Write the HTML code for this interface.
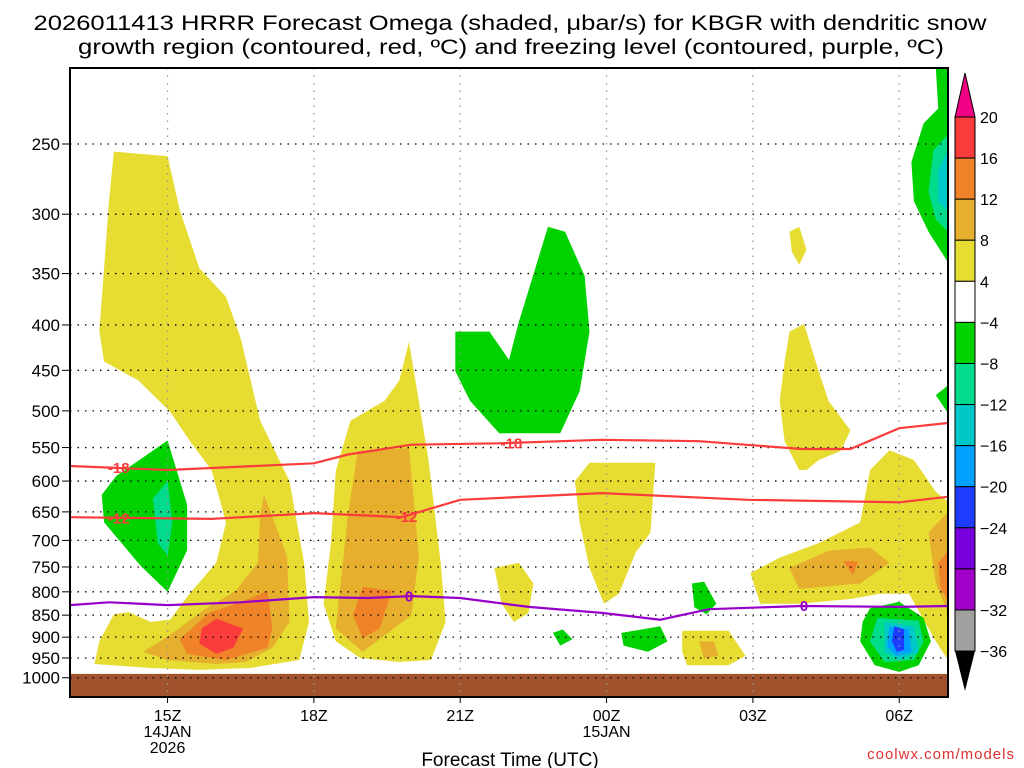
<!DOCTYPE html>
<html><head><meta charset="utf-8"><style>
html,body{margin:0;padding:0;background:#fff;}
svg{display:block;font-family:"Liberation Sans",sans-serif;}
</style></head><body>
<svg id="chart" width="1024" height="768" viewBox="0 0 1024 768"></svg>
<script>
// ---------- data ----------
const hourTicks = [15, 18, 21, 24, 27, 30];
const hourTickLabels = ["15Z", "18Z", "21Z", "00Z", "03Z", "06Z"];
const pressureLevels = [250,300,350,400,450,500,550,600,650,700,750,800,850,900,950,1000];
const cbLabels = ["20","16","12","8","4","-4","-8","-12","-16","-20","-24","-28","-32","-36"];
const cbColors = ["#fa3c3c","#f08228","#e6af2d","#e6dc32","#ffffff","#00d200","#00dc8c","#00c8c8","#00a0ff","#1e3cff","#7800dc","#a000c8","#a0a0a0"];

// contour lines [hour, hPa]
const lineM18Hours = [13,15,18,18.7,20,21.8,23.9,25.9,28,29,30,31];
const lineM18Press = [577,583,573,560,546,544,539,541,552,552,523,516];
const lineM12Hours = [13,15.9,18,19.8,21,23.9,26.9,30,31];
const lineM12Press = [659,662,652,659,630,619,630,634,625];
const line0Hours = [13,13.8,15,16.5,18,19.1,20,21,22.4,23.9,25.1,26.1,28,30,31];
const line0Press = [828,822,828,822,811,813,809,813,832,845,860,837,830,832,830];

// shaded omega regions [hour, hPa]
const yellowRegions = [
 [[13.9,255],[15.0,258],[15.25,297],[15.65,345],[16.2,372],[16.5,414],[16.9,513],[17.5,600],[17.8,742],[17.9,865],[17.7,955],[16.7,975],[15.65,980],[14.65,975],[13.5,965],[13.6,910],[13.9,848],[14.2,843],[14.65,865],[15.05,860],[15.45,804],[16.0,742],[16.2,668],[15.9,583],[15.45,540],[15.05,501],[14.4,462],[13.7,440],[13.6,407],[13.7,345],[13.8,290]],
 [[19.95,418],[20.15,487],[20.35,568],[20.6,742],[20.7,865],[20.4,955],[19.75,960],[18.95,950],[18.45,910],[18.2,825],[18.35,705],[18.45,584],[18.75,513],[19.45,487],[19.75,462]],
 [[23.65,572],[25.0,572],[24.9,686],[24.6,722],[24.25,804],[23.95,825],[23.65,752],[23.45,668],[23.35,600]],
 [[21.7,752],[22.2,742],[22.5,783],[22.4,845],[22.1,865],[21.85,825]],
 [[25.55,885],[26.5,885],[26.85,945],[26.5,968],[25.65,968],[25.55,935]],
 [[27.75,407],[28.05,399],[28.35,451],[28.55,487],[29.0,526],[28.8,555],[28.35,568],[28.1,583],[27.95,583],[27.65,541],[27.55,487],[27.65,440]],
 [[27.75,314],[27.95,310],[28.1,329],[27.95,342],[27.8,331]],
 [[26.95,762],[27.55,732],[28.35,705],[29.2,668],[29.4,583],[29.8,554],[30.3,568],[30.75,617],[31,633],[31,955],[30.75,910],[30.2,804],[29.6,804],[29.0,815],[27.95,825],[27.15,825]]
];
const goldRegions = [
 [[16.98,622],[17.45,730],[17.5,865],[17.15,925],[16.6,960],[16.0,965],[15.0,955],[14.5,935],[15.05,895],[15.75,838],[16.4,798],[16.85,742],[16.9,655]],
 [[18.9,555],[19.95,551],[20.15,730],[20.0,850],[19.0,935],[18.45,880],[18.7,655]],
 [[25.9,910],[26.2,910],[26.3,945],[26.0,952]],
 [[27.75,752],[28.55,719],[29.4,713],[29.8,742],[29.2,783],[27.95,794]],
 [[30.6,686],[31,650],[31,845],[30.75,783]]
];
const orangeRegions = [
 [[17.05,798],[17.15,880],[17.05,925],[16.2,955],[15.4,940],[15.25,905],[15.85,845],[16.6,818]],
 [[19.0,790],[19.6,798],[19.35,880],[19.0,902],[18.8,850]],
 [[28.85,738],[29.15,740],[29.05,766]],
 [[30.8,742],[31,719],[31,815],[30.85,794]]
];
const redRegions = [
 [[16.0,858],[16.55,880],[16.35,925],[16.0,940],[15.65,915],[15.7,880]]
];
const greenRegions = [
 [[15.0,540],[15.4,638],[15.4,718],[15.0,800],[14.45,748],[13.7,668],[13.65,622],[13.95,592]],
 [[20.9,407],[21.6,407],[22.0,438],[22.2,397],[22.8,310],[23.15,314],[23.55,352],[23.65,407],[23.45,475],[23.05,530],[21.8,530],[21.2,487],[20.9,451],[20.9,410]],
 [[25.75,783],[26.0,779],[26.25,825],[26.05,848],[25.8,833]],
 [[22.9,890],[23.1,882],[23.3,905],[23.05,920]],
 [[24.3,890],[25.1,875],[25.25,910],[24.85,935],[24.35,920]],
 [[29.4,835],[30.0,821],[30.5,856],[30.65,910],[30.4,968],[30.0,985],[29.5,968],[29.2,910],[29.25,865]],
 [[31,205],[30.75,205],[30.8,228],[30.5,237],[30.25,262],[30.3,290],[30.6,314],[31,340]],
 [[31,468],[30.75,480],[31,503]]
];
const tealRegions = [
 [[15.0,600],[15.1,668],[15.0,728],[14.8,705],[14.7,628]],
 [[29.55,856],[30.4,862],[30.5,910],[30.3,955],[29.7,960],[29.4,910]],
 [[31,244],[30.7,254],[30.6,283],[30.75,304],[31,314]]
];
const cyanRegions = [
 [[29.7,865],[30.3,875],[30.4,935],[30.0,955],[29.7,935]],
 [[31,254],[30.8,268],[30.8,290],[31,298]]
];
const blueRegions = [[[29.8,875],[30.2,882],[30.25,935],[29.95,945],[29.75,922]]];
const darkBlueRegions = [[[29.9,875],[30.1,882],[30.1,930],[29.95,935],[29.85,910]]];

// ---------- axes ----------
const PL=70, PR=948, PT=68, PB=697;
const H0=13, H1=31;
function xs(h){return PL+(h-H0)/(H1-H0)*(PR-PL);}
function ys(p){return 144+385*Math.log(p/250);}

const svg=document.getElementById('chart');
const NS='http://www.w3.org/2000/svg';
function mk(tag,attrs,parent){const e=document.createElementNS(NS,tag);for(const k in attrs)e.setAttribute(k,attrs[k]);(parent||svg).appendChild(e);return e;}

const clip=mk('clipPath',{id:'pc'});mk('rect',{x:PL,y:PT,width:PR-PL,height:PB-PT},clip);
const plot=mk('g',{'clip-path':'url(#pc)'});



function drawRegions(arr,color,name){
  arr.forEach(function(poly){
    const pts=poly.map(function(q){return xs(q[0]).toFixed(1)+','+ys(q[1]).toFixed(1);}).join(' ');
    const e=mk('polygon',{points:pts,fill:color},plot);
    
    
  });
}
drawRegions(yellowRegions,'#e6dc32','omega-4-8');
drawRegions(goldRegions,'#e6af2d','omega-8-12');
drawRegions(orangeRegions,'#f08228','omega-12-16');
drawRegions(redRegions,'#fa3c3c','omega-16-20');
drawRegions(greenRegions,'#00d200','omega-neg4-neg8');
drawRegions(tealRegions,'#00dc8c','omega-neg8-neg12');
drawRegions(cyanRegions,'#00c8c8','omega-neg12-neg16');
drawRegions(blueRegions,'#00a0ff','omega-neg16-neg20');
drawRegions(darkBlueRegions,'#1e3cff','omega-neg20-neg24');

// ground
const ground=mk('rect',{x:PL,y:ys(990),width:PR-PL,height:PB-ys(990),fill:'#a0522d'},plot);



// grid
pressureLevels.forEach(function(p){
  const g=mk('line',{x1:PL,x2:PR,y1:ys(p),y2:ys(p),stroke:'#000','stroke-width':1.3,'stroke-dasharray':'1.5,6'},plot);
  
  
});
hourTicks.forEach(function(h){
  const g=mk('line',{x1:xs(h),x2:xs(h),y1:PT,y2:PB,stroke:'#999','stroke-width':1.3,'stroke-dasharray':'1.5,6'},plot);
  
  
});

// contour lines
function drawLine(hours,press,color,name){
  const d=hours.map(function(h,i){return (i?'L':'M')+xs(h).toFixed(1)+','+ys(press[i]).toFixed(1);}).join(' ');
  const e=mk('path',{d:d,fill:'none',stroke:color,'stroke-width':2.2},plot);
  
  
}
drawLine(lineM18Hours,lineM18Press,'#fa3c3c','contour-minus18');
drawLine(lineM12Hours,lineM12Press,'#fa3c3c','contour-minus12');
drawLine(line0Hours,line0Press,'#9600c8','freezing-level-0');

function cLabel(txt,h,p,color){
  const t=mk('text',{x:xs(h),y:ys(p)+5,'text-anchor':'middle','font-size':15,'font-weight':'bold',fill:color},plot);
  t.textContent=txt;
  
  
}
cLabel('-18',14.0,580,'#fa3c3c');cLabel('-18',22.05,544,'#fa3c3c');
cLabel('-12',14.0,661,'#fa3c3c');cLabel('-12',19.9,659,'#fa3c3c');
cLabel('0',19.95,810,'#9600c8');cLabel('0',28.05,830,'#9600c8');

// frame
const fr=mk('rect',{x:PL,y:PT,width:PR-PL,height:PB-PT,fill:'none',stroke:'#000','stroke-width':2});



// y labels
pressureLevels.forEach(function(p){
  const t=mk('text',{x:60,y:ys(p)+6,'text-anchor':'end','font-size':17,fill:'#000'});
  t.textContent=p;
  
  
  mk('line',{x1:62,x2:PL,y1:ys(p),y2:ys(p),stroke:'#000','stroke-width':1});
});
// x labels
hourTicks.forEach(function(h,i){
  mk('line',{x1:xs(h),x2:xs(h),y1:PB,y2:PB+6,stroke:'#000','stroke-width':1});
  const t=mk('text',{x:xs(h),y:721,'text-anchor':'middle','font-size':16,fill:'#000'});
  t.textContent=hourTickLabels[i];
  
  
});
function txt(s,x,y,size,anchor,name,color){
  const t=mk('text',{x:x,y:y,'text-anchor':anchor,'font-size':size,fill:color||'#000'});
  t.textContent=s;
  
  
  return t;
}
txt('14JAN',xs(15),737,16,'middle','date-label');
txt('2026',xs(15),753,16,'middle','year-label');
txt('15JAN',xs(24),737,16,'middle','date-label');
txt('Forecast Time (UTC)',510,766,19,'middle','x-axis-title');
txt('coolwx.com/models',1015,759,15,'end','credit','#e03030').setAttribute('letter-spacing','1');
const t1=txt('2026011413 HRRR Forecast Omega (shaded, \u03bcbar/s) for KBGR with dendritic snow',510,30,21,'middle','chart-title-line1');
t1.setAttribute('textLength','953');t1.setAttribute('lengthAdjust','spacingAndGlyphs');
const t2=txt('growth region (contoured, red, \u00baC) and freezing level (contoured, purple, \u00baC)',511,54,21,'middle','chart-title-line2');
t2.setAttribute('textLength','866');t2.setAttribute('lengthAdjust','spacingAndGlyphs');

// colorbar
const CBX=955, CBW=20, CBT=117, CBS=41.08;
const cb=mk('g',{});


mk('polygon',{points:CBX+','+CBT+' '+(CBX+CBW)+','+CBT+' '+(CBX+CBW/2)+','+(CBT-44),fill:'#f00082',stroke:'#000','stroke-width':1},cb);
cbColors.forEach(function(c,i){
  mk('rect',{x:CBX,y:CBT+i*CBS,width:CBW,height:CBS,fill:c,stroke:'#000','stroke-width':1},cb);
});
const cbBot=CBT+cbColors.length*CBS;
mk('polygon',{points:CBX+','+cbBot+' '+(CBX+CBW)+','+cbBot+' '+(CBX+CBW/2)+','+(cbBot+40),fill:'#000'},cb);
cbLabels.forEach(function(s,i){
  const t=mk('text',{x:980,y:CBT+i*CBS+6,'font-size':16,fill:'#000'},cb);
  t.textContent=s.replace('-','\u2212');
  
  
});
</script>
</body></html>
